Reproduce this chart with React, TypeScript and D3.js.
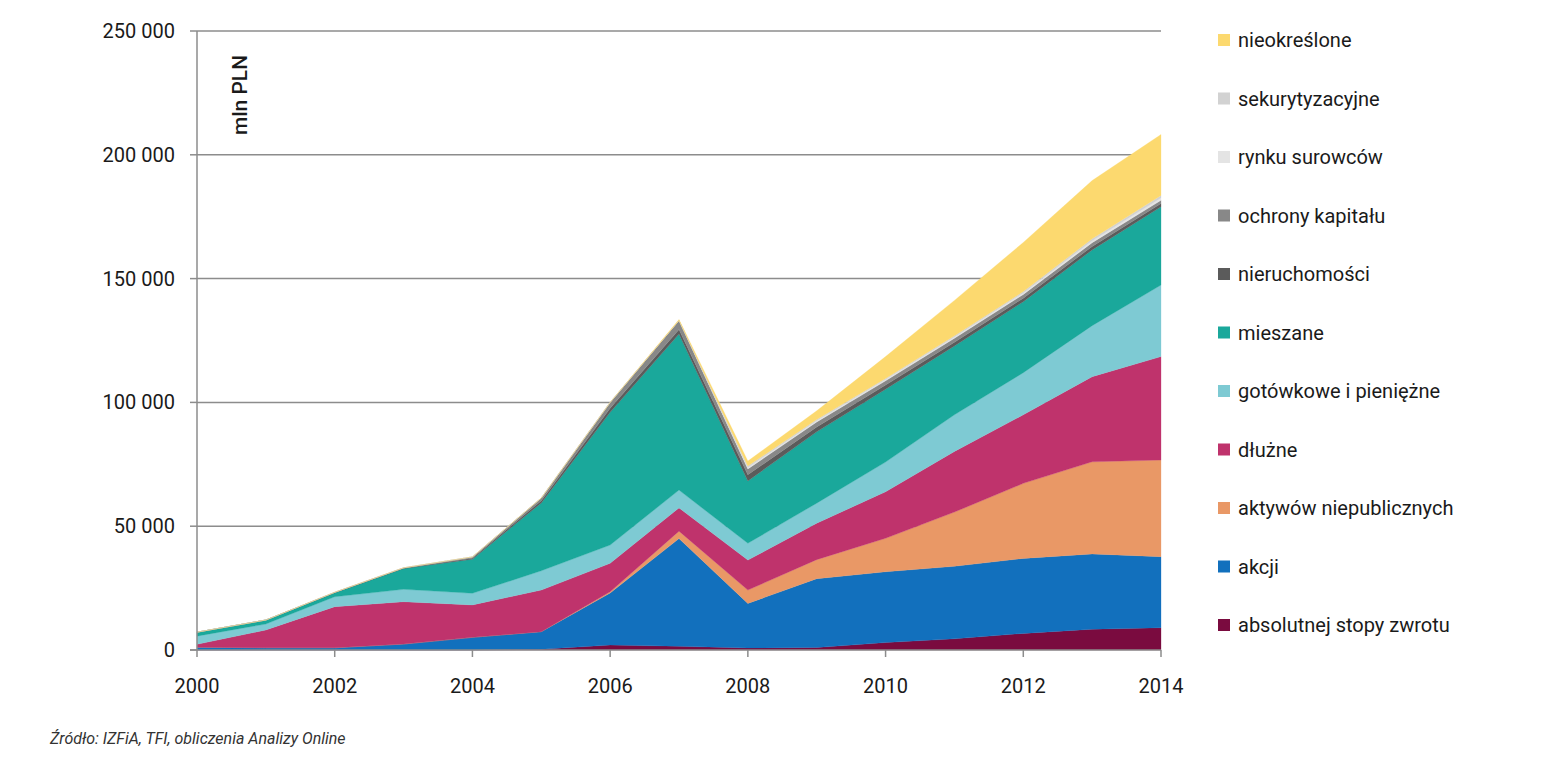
import React from "react";
import * as d3 from "d3";

const years = [2000, 2001, 2002, 2003, 2004, 2005, 2006, 2007, 2008, 2009, 2010, 2011, 2012, 2013, 2014];

// series (bottom to top of the stack)
const absolutnej = [0, 0, 0, 0, 0, 300, 2000, 1500, 800, 1000, 3000, 4500, 6700, 8400, 9000];
const akcji = [1100, 900, 900, 2400, 5100, 7100, 21000, 43500, 18000, 27800, 28600, 29300, 30300, 30400, 28700];
const aktywow = [0, 0, 0, 0, 0, 0, 500, 3000, 5400, 7700, 13500, 21900, 30300, 37200, 39000];
const dluzne = [1200, 7200, 16600, 17100, 13100, 16800, 11500, 9400, 12100, 14700, 18800, 24500, 27700, 34400, 41800];
const gotowkowe = [3300, 2400, 4000, 5000, 4700, 7800, 7400, 7200, 6800, 8100, 12000, 14800, 17000, 20600, 28900];
const mieszane = [1600, 1600, 1600, 8400, 13800, 27400, 53600, 63000, 25200, 28800, 29400, 27800, 28700, 30600, 31600];
const nieruchomosci = [0, 0, 100, 150, 400, 900, 1600, 1800, 2500, 2000, 1700, 1500, 1400, 1400, 1300];
const ochrony = [0, 0, 100, 150, 500, 1100, 2400, 3700, 2300, 2000, 1700, 1600, 1500, 1500, 1300];
const rynku = [0, 0, 0, 0, 0, 0, 0, 0, 600, 500, 500, 500, 600, 800, 1000];
const sekurytyzacyjne = [0, 0, 0, 0, 0, 0, 0, 0, 600, 500, 500, 500, 600, 800, 1000];
const nieokreslone = [0, 0, 0, 0, 0, 0, 0, 400, 2000, 3500, 8800, 14300, 19800, 23500, 24600];

const seriesNames = [
  "absolutnej stopy zwrotu",
  "akcji",
  "aktywów niepublicznych",
  "dłużne",
  "gotówkowe i pieniężne",
  "mieszane",
  "nieruchomości",
  "ochrony kapitału",
  "rynku surowców",
  "sekurytyzacyjne",
  "nieokreślone",
];
const seriesValues = [absolutnej, akcji, aktywow, dluzne, gotowkowe, mieszane, nieruchomosci, ochrony, rynku, sekurytyzacyjne, nieokreslone];
const seriesColors = ["#7a0b3f", "#1270bd", "#e99866", "#bf336c", "#7ecad3", "#1aa89b", "#5b5b5b", "#888888", "#e4e4e4", "#d2d2d2", "#fcd96f"];

const yTicks = [0, 50000, 100000, 150000, 200000, 250000];
const xTickYears = [2000, 2002, 2004, 2006, 2008, 2010, 2012, 2014];
const unitLabel = "mln PLN";
const sourceText = "Źródło: IZFiA, TFI, obliczenia Analizy Online";

const FONT = "Roboto, 'DejaVu Sans', sans-serif";

export default function App() {
  const W = 1548, H = 760;
  const left = 197, right = 1161, top = 31, bottom = 650;

  const x = d3.scaleLinear().domain([2000, 2014]).range([left, right]);
  const y = d3.scaleLinear().domain([0, 250000]).range([bottom, top]);

  const table = years.map((yr, i) => {
    const row: any = { year: yr };
    seriesNames.forEach((n, k) => (row[n] = seriesValues[k][i]));
    return row;
  });
  const stacked = d3.stack().keys(seriesNames)(table);
  const area = d3
    .area<any>()
    .x((d) => x(d.data.year))
    .y0((d) => y(d[0]))
    .y1((d) => y(d[1]));

  const fmt = (v: number) => (v === 0 ? "0" : d3.format(",")(v).replace(/,/g, " "));

  const legendOrder = [...seriesNames.keys()].reverse();

  return (
    <svg width={W} height={H} style={{ position: "absolute", left: 0, top: 0, background: "#fff" }} fontFamily={FONT}>
      {/* gridlines */}
      {yTicks.filter((t) => t > 0).map((t) => (
        <line key={t} x1={left} x2={right} y1={y(t)} y2={y(t)} stroke="#8c8c8c" strokeWidth={1.5} />
      ))}
      {/* areas */}
      {stacked.map((s, k) => (
        <path key={s.key} d={area(s as any) || ""} fill={seriesColors[k]} stroke={seriesColors[k]} strokeWidth={0.3} />
      ))}
      {/* y axis */}
      <line x1={left} x2={left} y1={top} y2={bottom} stroke="#8c8c8c" strokeWidth={1.5} />
      {yTicks.map((t) => (
        <g key={t}>
          <line x1={left - 7} x2={left} y1={y(t)} y2={y(t)} stroke="#8c8c8c" strokeWidth={1.5} />
          <text x={175} y={y(t)} dy="0.35em" textAnchor="end" fontSize={20} fill="#1a1a1a">
            {fmt(t)}
          </text>
        </g>
      ))}
      {/* x axis */}
      <line x1={left - 7} x2={right} y1={bottom} y2={bottom} stroke="#8c8c8c" strokeWidth={1.5} />
      {xTickYears.map((yr) => (
        <g key={yr}>
          <line x1={x(yr)} x2={x(yr)} y1={bottom} y2={bottom + 7} stroke="#8c8c8c" strokeWidth={1.5} />
          <text x={x(yr)} y={686} dy="0.35em" textAnchor="middle" fontSize={20} fill="#1a1a1a">
            {yr}
          </text>
        </g>
      ))}
      {/* unit label */}
      <text transform={`translate(240,95) rotate(-90)`} textAnchor="middle" dy="0.35em" fontSize={21} fontWeight={500} fill="#1a1a1a">
        {unitLabel}
      </text>
      {/* legend */}
      {legendOrder.map((k, i) => {
        const cy = 40 + i * 58.5;
        return (
          <g key={seriesNames[k]}>
            <rect x={1218} y={cy - 6} width={12} height={12} fill={seriesColors[k]} />
            <text x={1238} y={cy} dy="0.35em" fontSize={20} fill="#1a1a1a">
              {seriesNames[k]}
            </text>
          </g>
        );
      })}
      {/* source */}
      <text x={50} y={738} dy="0.35em" fontSize={16} fontStyle="italic" fill="#333">
        {sourceText}
      </text>
    </svg>
  );
}
